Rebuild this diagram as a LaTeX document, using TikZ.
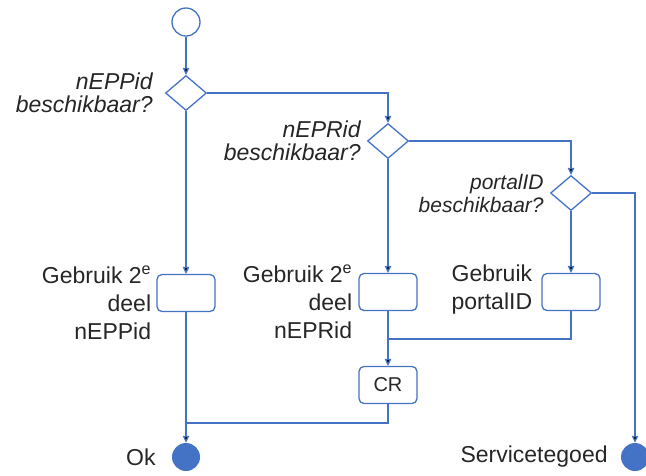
\documentclass[tikz,border=0pt]{standalone}
\usepackage{fontspec}
\setmainfont{Liberation Sans}
\usetikzlibrary{shapes.geometric,positioning,arrows.meta}
\definecolor{flowblue}{HTML}{4472C4}
\definecolor{labelgray}{HTML}{262626}

\begin{document}
\begin{tikzpicture}[x=1pt,y=1pt,on grid,
	initialnode/.style={circle,draw=flowblue,line width=1.3pt,minimum size=28pt,inner sep=0pt},
	finalnode/.style={circle,fill=flowblue,minimum size=28pt,inner sep=0pt},
	choice/.style={diamond,draw=flowblue,line width=1.3pt,minimum width=41pt,minimum height=35pt,inner sep=0pt},
	activity/.style={draw=flowblue,line width=1.3pt,rounded corners=5pt,minimum width=58pt,minimum height=37pt,inner sep=0pt,text=labelgray,font=\fontsize{20}{24}\selectfont},
	lbl/.style={inner sep=0pt,text=labelgray,font=\fontsize{23}{28}\selectfont},
	question/.style={inner sep=0pt,text=labelgray,align=right,font=\fontsize{23}{23}\selectfont\itshape},
	flow/.style={draw=flowblue,line width=1.3pt,-{Triangle[length=7pt,width=6.5pt]}},
	hv/.style={to path={-| (\tikztotarget)}},
	vh/.style={to path={|- (\tikztotarget)}}]
	\useasboundingbox (0,0) rectangle (646,-475);
	\node[initialnode] (start) at (186,-22) {};
	\node[choice] (d1) [below=71pt of start] {};
	\node[choice] (d2) [below right=48pt and 202pt of d1] {};
	\node[choice] (d3) [below right=52pt and 183pt of d2] {};
	\node[activity] (b1) [below=200pt of d1] {};
	\node[activity] (b2) [below=151pt of d2] {};
	\node[activity] (b3) [below=99pt of d3] {};
	\node[activity] (cr) [below=93pt of b2] {CR};
	\node[finalnode] (ok) [below=164pt of b1] {};
	\node[finalnode] (svc) [below right=264pt and 64pt of d3] {};
	\node[coordinate] (j1) [below=47pt of b2] {};
	\node[coordinate] (j2) [below=130pt of b1] {};

	\node[question,left=12pt of d1.west,anchor=east] (d1txt) {nEPPid\\beschikbaar?};
	\node[question,left=6pt of d2.west,anchor=east] (d2txt) {nEPRid\\beschikbaar?};
	\node[question,left=6pt of d3.west,anchor=east,font=\fontsize{21}{23}\selectfont\itshape] (d3txt) {portalID\\beschikbaar?};
	\node[lbl,align=right,above left=8pt and 5pt of b1.north west,anchor=north east] (b1txt) {Gebruik 2\textsuperscript{e}\\deel\\nEPPid};
	\node[lbl,align=right,above left=8pt and 6pt of b2.north west,anchor=north east] (b2txt) {Gebruik 2\textsuperscript{e}\\deel\\nEPRid};
	\node[lbl,align=left,above left=8pt and 9pt of b3.north west,anchor=north east] (b3txt) {Gebruik\\portalID};
	\node[lbl,left=16pt of ok.west,anchor=east] (oktxt) {Ok};
	\node[lbl,left=13pt of svc.west,anchor=east] (svctxt) {Servicetegoed};

	\path[flow]
	(start) edge (d1)
	(d1) edge [hv] (d2)
	edge (b1)
	(d2) edge [hv] (d3)
	edge (b2)
	(d3) edge [hv] (svc)
	edge (b3)
	(b1) edge (ok)
	(b2) edge (cr);
	\path[draw=flowblue,line width=1.3pt]
	(b3) edge [vh] (j1)
	(cr) edge [vh] (j2);
\end{tikzpicture}
\end{document}
